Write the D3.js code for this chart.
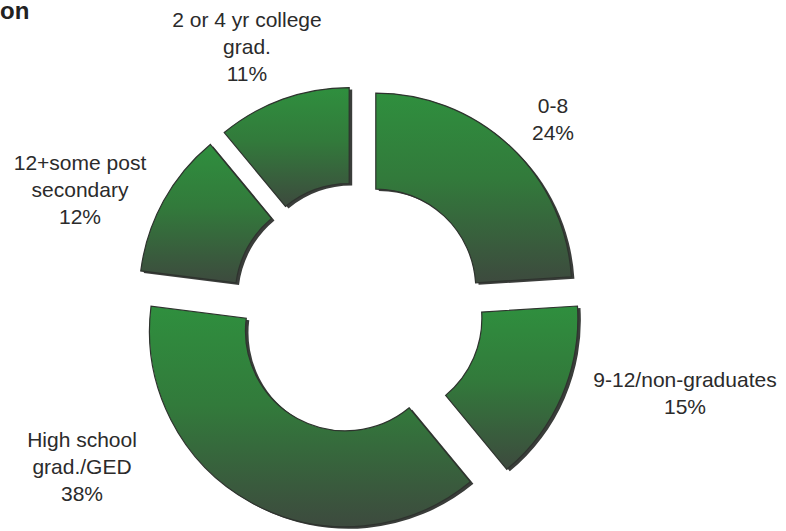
<!DOCTYPE html>
<html>
<head>
<meta charset="utf-8">
<script src="https://cdn.jsdelivr.net/npm/d3@7"></script>
<style>
  body { margin: 0; background: #fff; }
  svg { display: block; }
  text { font-family: "Liberation Sans", Arial, sans-serif; fill: #2b2b2b; }
</style>
</head>
<body>
<div id="chart"></div>
<script>
// data
var categories = ["0-8", "9-12/non-graduates", "High school grad./GED", "12+some post secondary", "2 or 4 yr college grad."];
var percents = [24, 15, 38, 12, 11];
// label lines, as wrapped in the picture
var labelLines = [
  ["0-8", "24%"],
  ["9-12/non-graduates", "15%"],
  ["High school", "grad./GED", "38%"],
  ["12+some post", "secondary", "12%"],
  ["2 or 4 yr college", "grad.", "11%"]
];
var labelPos = [[553, 113], [685, 387], [82, 447], [80, 170], [247, 27]];

var cfg = {
  width: 786,
  height: 531,
  cx: 358,
  cy: 308,
  inner: 100,
  outer: 196,
  explode: 26,
  lineH: 27
};

var svg = d3.select("#chart").append("svg")
  .attr("width", cfg.width)
  .attr("height", cfg.height);

// gradient: bright green on top, dark grey-green at the bottom of each slice
var grad = svg.append("defs").append("linearGradient")
  .attr("id", "sliceGrad")
  .attr("x1", 0).attr("y1", 0).attr("x2", 0).attr("y2", 1);
grad.append("stop").attr("offset", "0%").attr("stop-color", "#2f8f3e");
grad.append("stop").attr("offset", "45%").attr("stop-color", "#327a3b");
grad.append("stop").attr("offset", "100%").attr("stop-color", "#3d4a3e");

var pie = d3.pie().sort(null).value(function(d) { return d; });
var arc = d3.arc().innerRadius(cfg.inner).outerRadius(cfg.outer);

var slices = pie(percents);

var g = svg.append("g")
  .attr("transform", "translate(" + cfg.cx + "," + cfg.cy + ")");

var slice = g.selectAll(".slice")
  .data(slices)
  .enter()
  .append("g")
    .attr("class", "slice")
    .attr("transform", function(d) {
      var a = (d.startAngle + d.endAngle) / 2;
      return "translate(" + (Math.sin(a) * cfg.explode) + "," + (-Math.cos(a) * cfg.explode) + ")";
    });

// the little 3d edge
slice.append("path")
  .attr("d", arc)
  .attr("transform", "translate(3,2)")
  .style("fill", "#3a3d3a");

slice.append("path")
  .attr("d", arc)
  .style("fill", "url(#sliceGrad)")
  .style("stroke", "#2e332e")
  .style("stroke-width", 1.2);

// labels
svg.append("g")
  .selectAll("text")
  .data(labelLines)
  .enter()
  .append("text")
    .attr("text-anchor", "middle")
    .style("font-size", "21px")
    .attr("x", function(d, i) { return labelPos[i][0]; })
    .attr("y", function(d, i) { return labelPos[i][1]; })
    .selectAll("tspan")
    .data(function(d, i) { return d.map(function(t) { return { t: t, i: i }; }); })
    .enter()
    .append("tspan")
      .attr("x", function(d) { return labelPos[d.i][0]; })
      .attr("dy", function(d, j) { return j === 0 ? 0 : cfg.lineH; })
      .text(function(d) { return d.t; });

// cut off title at the top left
svg.append("text")
  .attr("x", 0)
  .attr("y", 19)
  .style("font-size", "24px")
  .style("font-weight", "bold")
  .style("fill", "#222")
  .text("on");
</script>
</body>
</html>
